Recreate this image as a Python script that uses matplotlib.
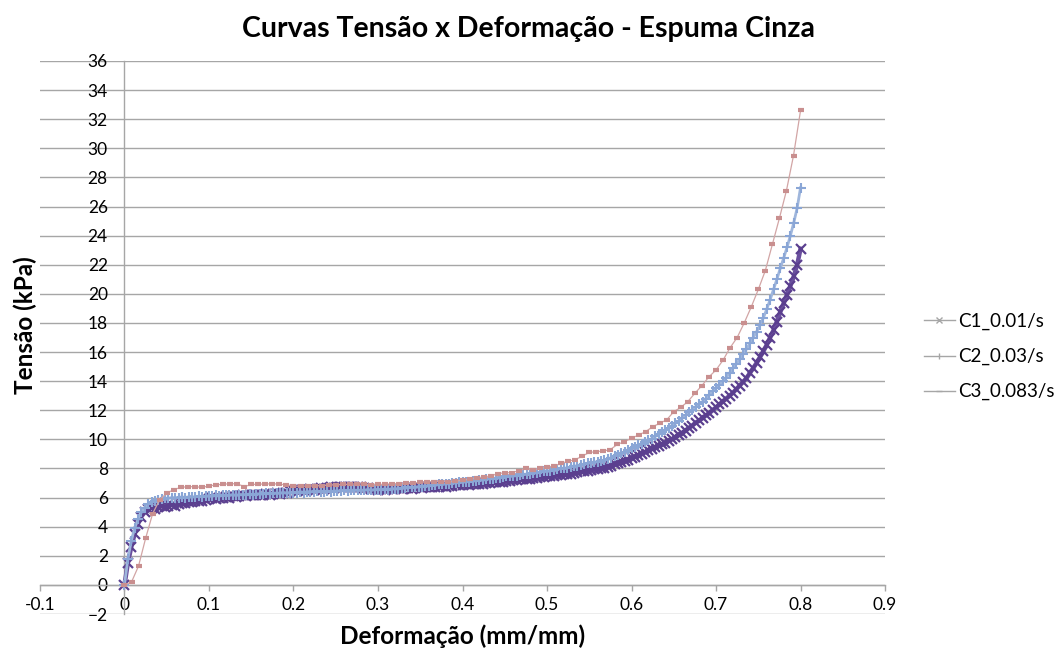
import numpy as np
import matplotlib
matplotlib.use("Agg")
import matplotlib.pyplot as plt
from matplotlib.lines import Line2D

plt.rcParams['font.family'] = ['Lato', 'DejaVu Sans']

# Tensão (kPa) medida a cada 0.004 mm/mm - ensaio C1 (0.01/s)
c1_stress = [
    0.0, 1.5, 2.6, 3.5, 4.2, 4.7, 5.0, 5.2, 5.3, 5.25,
    5.35, 5.4, 5.35, 5.45, 5.5, 5.45, 5.55, 5.6, 5.6, 5.7,
    5.7, 5.75, 5.8, 5.8, 5.85, 5.9, 5.95, 5.9, 6.0, 6.0,
    6.05, 6.0, 6.1, 6.05, 6.1, 6.15, 6.1, 6.15, 6.2, 6.15,
    6.2, 6.2, 6.25, 6.2, 6.25, 6.3, 6.25, 6.3, 6.3, 6.45,
    6.5, 6.45, 6.55, 6.5, 6.55, 6.6, 6.55, 6.6, 6.65, 6.6,
    6.65, 6.7, 6.65, 6.7, 6.7, 6.75, 6.7, 6.7, 6.75, 6.7,
    6.7, 6.65, 6.65, 6.6, 6.6, 6.55, 6.6, 6.55, 6.6, 6.6,
    6.6, 6.65, 6.6, 6.65, 6.65, 6.6, 6.65, 6.7, 6.65, 6.7,
    6.7, 6.75, 6.7, 6.75, 6.8, 6.75, 6.8, 6.8, 6.85, 6.85,
    6.85, 6.9, 6.85, 6.9, 6.95, 6.95, 6.95, 7.0, 7.0, 7.05,
    7.05, 7.1, 7.1, 7.15, 7.15, 7.2, 7.2, 7.25, 7.25, 7.3,
    7.3, 7.35, 7.35, 7.4, 7.4, 7.45, 7.45, 7.5, 7.55, 7.55,
    7.6, 7.6, 7.65, 7.7, 7.75, 7.8, 7.85, 7.85, 7.9, 7.95,
    7.95, 8.0, 8.05, 8.1, 8.2, 8.3, 8.35, 8.45, 8.5, 8.6,
    8.7, 8.8, 8.9, 9.0, 9.1, 9.25, 9.35, 9.45, 9.55, 9.65,
    9.75, 9.9, 10.0, 10.15, 10.3, 10.45, 10.6, 10.8, 10.95, 11.15,
    11.3, 11.45, 11.65, 11.8, 12.0, 12.2, 12.4, 12.6, 12.8, 13.0,
    13.2, 13.45, 13.7, 13.95, 14.2, 14.55, 14.9, 15.25, 15.65, 16.05,
    16.5, 17.0, 17.5, 18.1, 18.75, 19.35, 19.95, 20.55, 21.2, 22.0,
    23.1,
]

# ensaio C2 (0.03/s), mesmo passo de deformação
c2_stress = [
    0.0, 1.8, 3.0, 3.9, 4.5, 5.0, 5.3, 5.55, 5.7, 5.8,
    5.85, 5.9, 5.95, 5.95, 6.0, 6.0, 6.0, 6.05, 6.0, 6.05,
    6.05, 6.05, 6.1, 6.05, 6.1, 6.1, 6.1, 6.15, 6.1, 6.15,
    6.15, 6.15, 6.2, 6.15, 6.2, 6.2, 6.2, 6.25, 6.2, 6.25,
    6.25, 6.25, 6.3, 6.25, 6.3, 6.3, 6.3, 6.35, 6.3, 6.35,
    6.35, 6.35, 6.4, 6.35, 6.4, 6.4, 6.4, 6.45, 6.4, 6.4,
    6.45, 6.4, 6.45, 6.45, 6.45, 6.5, 6.45, 6.5, 6.5, 6.5,
    6.5, 6.5, 6.55, 6.5, 6.55, 6.55, 6.55, 6.6, 6.55, 6.6,
    6.6, 6.6, 6.65, 6.65, 6.7, 6.7, 6.7, 6.75, 6.75, 6.8,
    6.8, 6.85, 6.85, 6.9, 6.9, 6.95, 6.95, 7.0, 7.0, 7.05,
    7.05, 7.1, 7.1, 7.15, 7.15, 7.2, 7.2, 7.25, 7.3, 7.3,
    7.35, 7.35, 7.4, 7.45, 7.45, 7.5, 7.5, 7.55, 7.6, 7.6,
    7.65, 7.7, 7.7, 7.75, 7.8, 7.8, 7.85, 7.9, 7.95, 8.0,
    8.0, 8.05, 8.1, 8.15, 8.2, 8.25, 8.3, 8.35, 8.4, 8.45,
    8.45, 8.5, 8.55, 8.65, 8.75, 8.85, 8.95, 9.05, 9.15, 9.3,
    9.4, 9.5, 9.6, 9.7, 9.8, 9.95, 10.05, 10.2, 10.35, 10.5,
    10.65, 10.8, 10.95, 11.1, 11.25, 11.45, 11.65, 11.85, 12.05, 12.25,
    12.4, 12.6, 12.8, 13.05, 13.3, 13.5, 13.75, 14.0, 14.25, 14.55,
    14.9, 15.2, 15.5, 15.85, 16.2, 16.6, 17.0, 17.4, 17.85, 18.35,
    18.95, 19.6, 20.3, 21.0, 21.75, 22.45, 23.2, 24.0, 24.9, 25.9,
    27.3,
]

# ensaio C3 (0.083/s), 96 intervalos até 0.8 mm/mm
c3_stress = [
    0.0, 0.2, 1.3, 3.2, 4.9, 5.85, 6.3, 6.55, 6.7, 6.75,
    6.75, 6.7, 6.8, 6.87, 6.92, 6.95, 6.95, 6.75, 6.9, 6.92,
    6.94, 6.94, 6.94, 6.85, 6.8, 6.78, 6.8, 6.8, 6.82, 6.87,
    6.87, 6.9, 6.92, 6.94, 6.94, 6.88, 6.9, 6.92, 6.94, 6.95,
    6.97, 7.0, 7.05, 7.08, 7.1, 7.1, 7.1, 7.12, 7.2, 7.28,
    7.35, 7.42, 7.48, 7.65, 7.7, 7.72, 7.85, 8.0, 7.9, 8.0,
    8.1, 8.17, 8.35, 8.5, 8.6, 8.85, 9.1, 9.16, 9.2, 9.3,
    9.66, 9.84, 10.08, 10.3, 10.53, 10.87, 11.1, 11.35, 11.9, 12.2,
    12.6, 13.17, 13.7, 14.3, 14.77, 15.45, 16.3, 17.0, 18.0, 19.1,
    20.3, 21.6, 23.4, 25.2, 27.1, 29.5, 32.6,
]

labels = ['C1_0.01/s', 'C2_0.03/s', 'C3_0.083/s']

c1_strain = np.linspace(0, 0.8, len(c1_stress))
c2_strain = np.linspace(0, 0.8, len(c2_stress))
c3_strain = np.linspace(0, 0.8, len(c3_stress))

fig = plt.figure(figsize=(10.63, 6.51), dpi=100)
ax = fig.add_axes([0.0376, 0.0568, 0.795, 0.8495])

# C1 fica como uma faixa densa de marcadores
ax.plot(c1_strain, c1_stress, color='#6a4f9e', lw=3.2, marker='x', ms=6.5, mew=1.6,
        markeredgecolor='#5b3f8f', zorder=3)
ax.plot(c2_strain, c2_stress, color='#9fb6dc', lw=2.0, marker='+', ms=6.5, mew=1.5,
        markeredgecolor='#8aa6d6', zorder=4)
ax.plot(c3_strain, c3_stress, color='#d2a5a5', lw=0.9, marker='_', ms=5, mew=3,
        markeredgecolor='#c98f8f', zorder=5)

ax.set_xlim(-0.1, 0.9)
ax.set_ylim(-2, 36)
ax.set_xticks(np.arange(-0.1, 0.91, 0.1))
ax.set_xticklabels(['-0.1', '0', '0.1', '0.2', '0.3', '0.4', '0.5', '0.6', '0.7', '0.8', '0.9'])
ax.set_yticks(np.arange(-2, 37, 2))

# eixos cruzando na origem, como no Excel
ax.spines['left'].set_position(('data', 0))
ax.spines['bottom'].set_position(('data', 0))
ax.spines['top'].set_visible(False)
ax.spines['right'].set_visible(False)
for s in ['left', 'bottom']:
    ax.spines[s].set_color('#a6a6a6')
    ax.spines[s].set_linewidth(1.0)

ax.grid(axis='y', color='#a6a6a6', lw=1.0)
ax.set_axisbelow(True)
ax.tick_params(axis='y', length=0, pad=12, labelsize=12.5)
ax.tick_params(axis='x', length=4, width=1.0, color='#a6a6a6', pad=5, labelsize=12.5,
               direction='out')

fig.suptitle('Curvas Tensão x Deformação - Espuma Cinza', x=0.497, y=0.975,
             fontsize=20.5, fontweight='bold', va='top')
fig.text(0.435, 0.023, 'Deformação (mm/mm)', ha='center', va='center',
         fontsize=17.5, fontweight='bold')
fig.text(0.024, 0.5, 'Tensão (kPa)', ha='center', va='center', rotation=90,
         fontsize=17.5, fontweight='bold')

handles = [
    Line2D([], [], color='#a6a6a6', lw=1, marker='x', ms=4, mec='#a6a6a6'),
    Line2D([], [], color='#a6a6a6', lw=1, marker='|', ms=5, mec='#a6a6a6'),
    Line2D([], [], color='#a6a6a6', lw=1, marker='_', ms=4, mec='#a6a6a6'),
]
fig.legend(handles, labels, loc='center left', bbox_to_anchor=(0.853, 0.452),
           frameon=False, fontsize=13.5, handlelength=1.65, handletextpad=0.2,
           labelspacing=0.95)

fig.savefig('out.png', dpi=100)
